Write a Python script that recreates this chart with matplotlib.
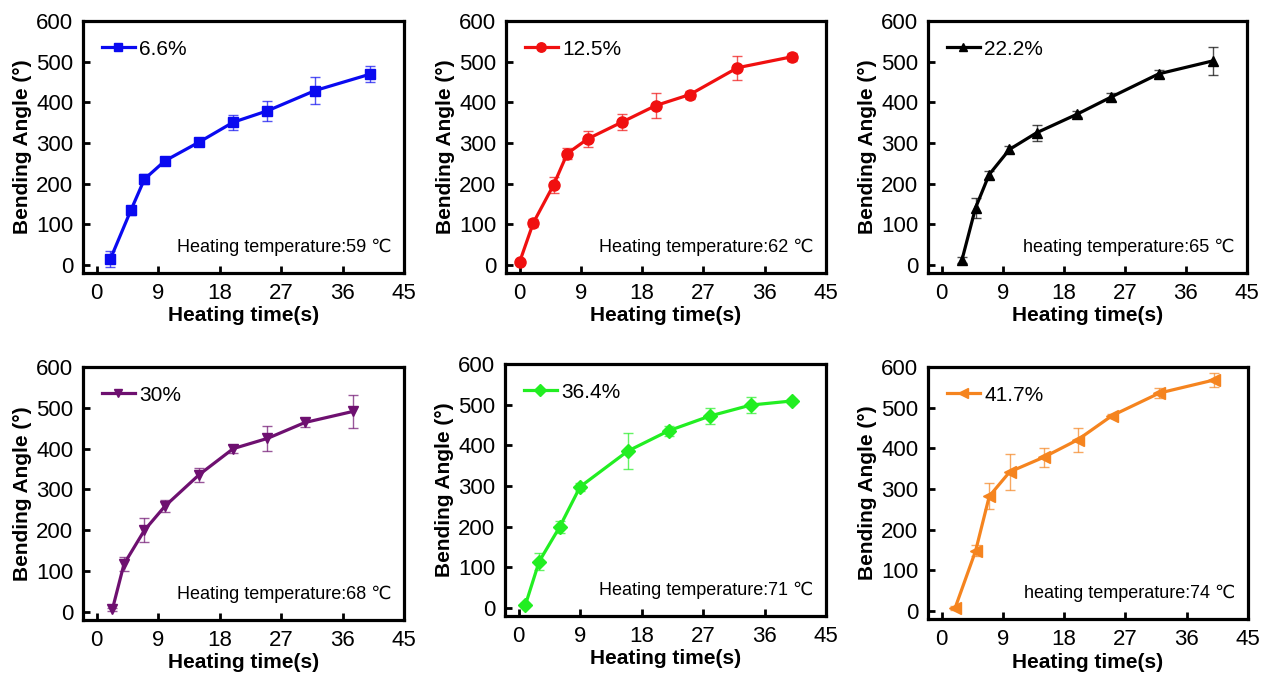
import matplotlib
matplotlib.use("Agg")
import matplotlib.pyplot as plt
import numpy as np

plt.rcParams['font.family'] = ['Liberation Sans', 'DejaVu Sans']

# data
x1 = [2, 5, 7, 10, 15, 20, 25, 32, 40]
y1 = [14, 134, 211, 256, 302, 351, 379, 429, 469]
e1 = [20, 12, 12, 5, 5, 18, 25, 32, 20]

x2 = [0, 2, 5, 7, 10, 15, 20, 25, 32, 40]
y2 = [7, 103, 197, 274, 310, 351, 392, 419, 485, 512]
e2 = [5, 10, 20, 13, 20, 20, 30, 10, 30, 10]

x3 = [3, 5, 7, 10, 14, 20, 25, 32, 40]
y3 = [12, 140, 222, 284, 325, 371, 413, 470, 502]
e3 = [8, 25, 10, 8, 20, 8, 10, 10, 35]

x4 = [2.3, 4, 7, 10, 15, 20, 25, 30.5, 37.5]
y4 = [6, 117, 200, 259, 336, 400, 425, 464, 491]
e4 = [4, 17, 30, 15, 17, 10, 30, 10, 40]

x5 = [1, 3, 6, 9, 16, 22, 28, 34, 40]
y5 = [8, 114, 199, 298, 386, 436, 472, 499, 509]
e5 = [4, 22, 15, 10, 45, 12, 20, 20, 5]

x6 = [2, 5, 7, 10, 15, 20, 25, 32, 40]
y6 = [8, 148, 282, 342, 378, 421, 480, 536, 568]
e6 = [5, 14, 32, 45, 23, 30, 5, 12, 18]

labels = ['6.6%', '12.5%', '22.2%', '30%', '36.4%', '41.7%']
notes = ['Heating temperature:59 \u2103', 'Heating temperature:62 \u2103',
         'heating temperature:65 \u2103', 'Heating temperature:68 \u2103',
         'Heating temperature:71 \u2103', 'heating temperature:74 \u2103']
colors = ['#0a0af0', '#f01010', '#000000', '#6e1070', '#22ee22', '#f5841f']
markers = ['s', 'o', '^', 'v', 'D', '<']
msizes = [7, 8, 7, 7, 7, 8]

xs = [x1, x2, x3, x4, x5, x6]
ys = [y1, y2, y3, y4, y5, y6]
es = [e1, e2, e3, e4, e5, e6]

W, H = 1264, 675
fig = plt.figure(figsize=(W / 100, H / 100), dpi=100)

# axes boxes in pixels (left, top, right, bottom)
boxes = [(83, 21, 404, 273), (506, 21, 826, 273), (928, 21, 1247, 273),
         (83, 367, 404, 620), (505, 364, 826, 616), (928, 367, 1248, 619)]

for i in range(6):
    l, t, r, b = boxes[i]
    ax = fig.add_axes([l / W, 1 - b / H, (r - l) / W, (b - t) / H])
    ax.errorbar(xs[i], ys[i], yerr=es[i], fmt='none', ecolor=colors[i],
                elinewidth=1, capsize=3.5, capthick=1, alpha=0.7, zorder=2)
    ax.plot(xs[i], ys[i], color=colors[i], marker=markers[i], markersize=msizes[i],
            linewidth=2.3, label=labels[i], zorder=3)
    ax.set_xlim(-2, 45)
    ax.set_ylim(-20, 600)
    ax.set_xticks([0, 9, 18, 27, 36, 45])
    ax.set_yticks([0, 100, 200, 300, 400, 500, 600])
    ax.tick_params(direction='in', length=5, width=2, labelsize=16, pad=7)
    for s in ax.spines.values():
        s.set_linewidth(2.3)
    ax.set_xlabel('Heating time(s)', fontsize=15, fontweight='bold', labelpad=2)
    ax.set_ylabel('Bending Angle (\u00b0)', fontsize=15, fontweight='bold', labelpad=3)
    ax.text(0.96, 0.1, notes[i], transform=ax.transAxes, ha='right', va='center',
            fontsize=13)
    ax.legend(loc='upper left', frameon=False, fontsize=15, handlelength=1.6,
              handletextpad=0.2, borderaxespad=0.5, markerscale=0.85)

fig.savefig('out.png', dpi=100)
